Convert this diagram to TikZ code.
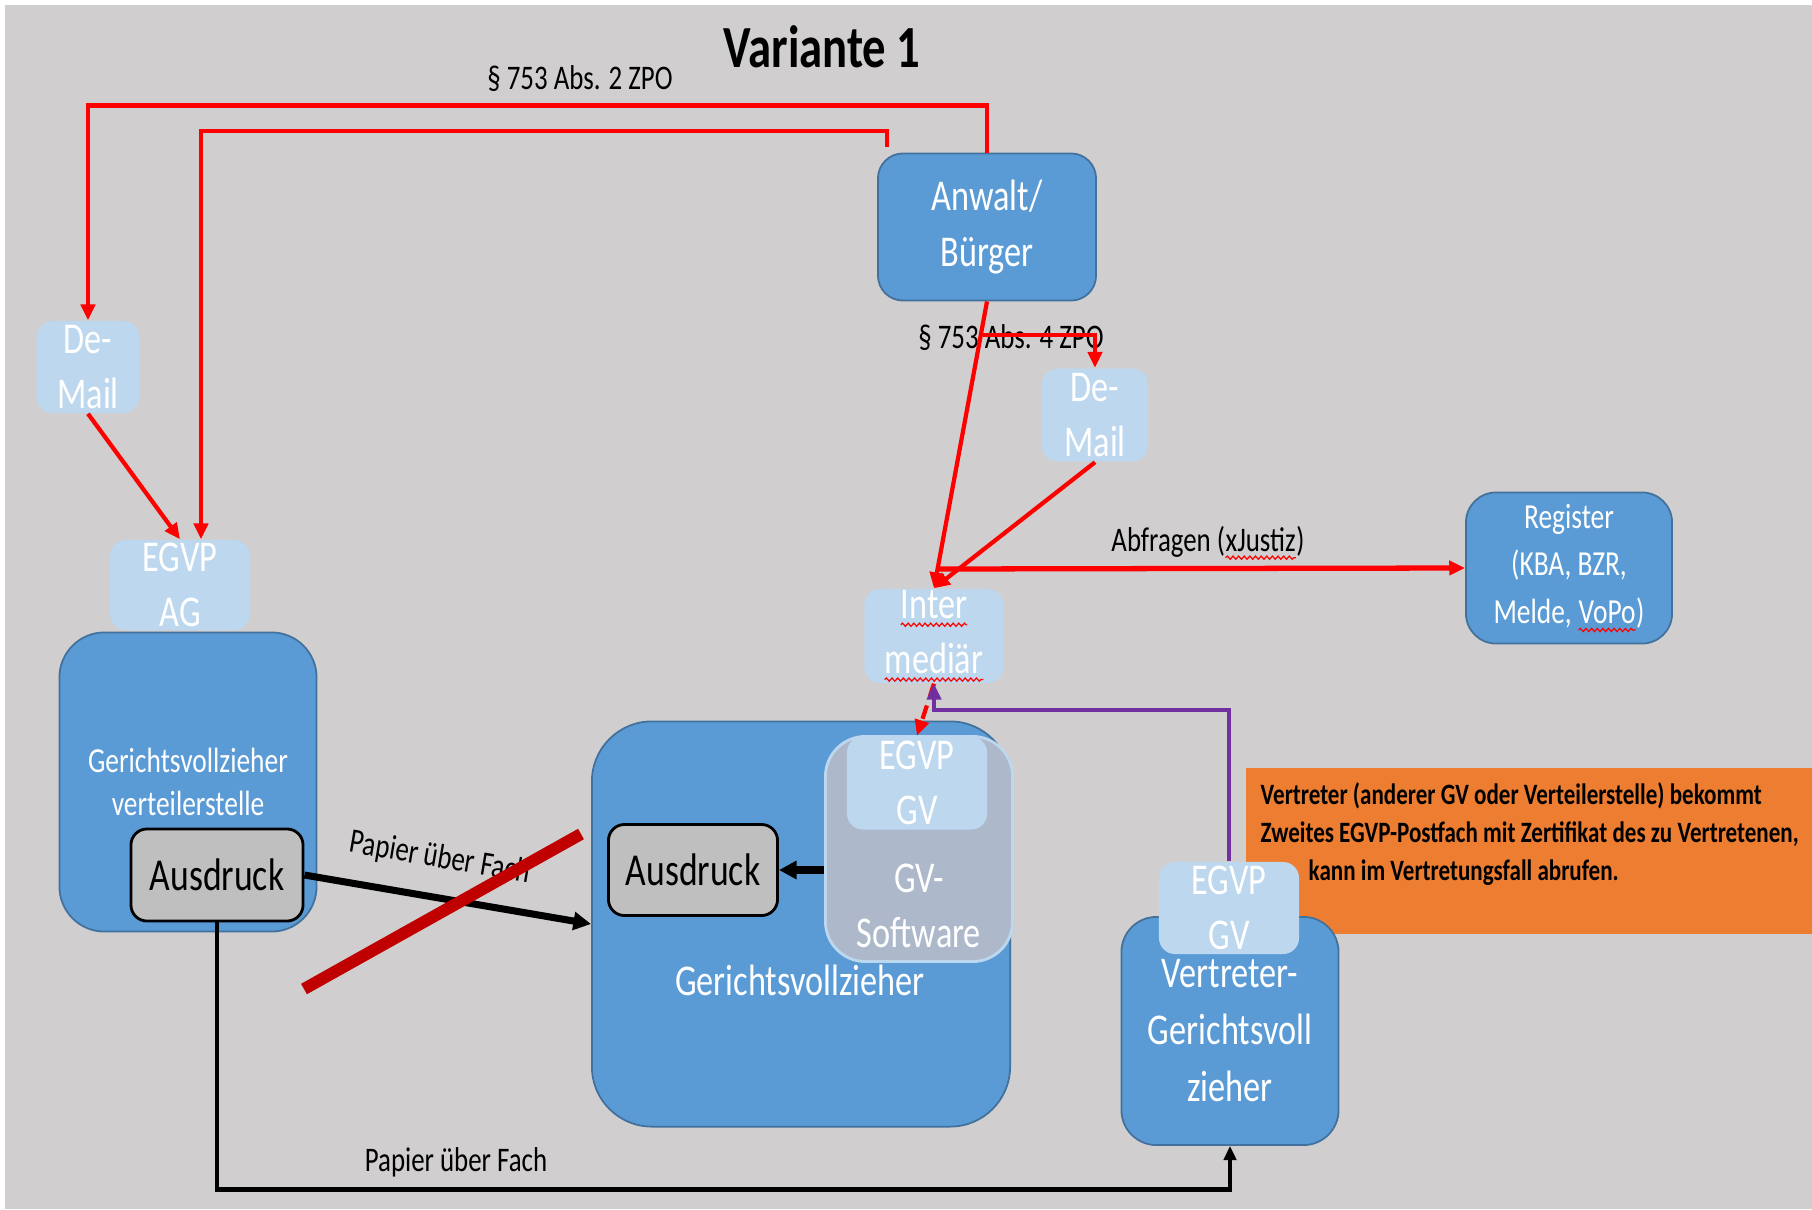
\documentclass[tikz,border=0pt]{standalone}
\usepackage{fontspec}
\setmainfont{Carlito}[FakeStretch=0.78]
\usetikzlibrary{arrows.meta,calc,decorations.pathmorphing}

\definecolor{bggray}{HTML}{D0CECE}
\definecolor{boxblue}{HTML}{5B9BD5}
\definecolor{boxedge}{HTML}{41719C}
\definecolor{mailblue}{HTML}{BDD7EE}
\definecolor{softgray}{HTML}{ADB9CA}
\definecolor{printgray}{HTML}{BFBFBF}
\definecolor{linered}{HTML}{FF0000}
\definecolor{crossred}{HTML}{C00000}
\definecolor{linepurple}{HTML}{7030A0}
\definecolor{noteorange}{HTML}{ED7D31}

\newcommand\spellwave[1]{\tikz[baseline=(sw@w.base), sharp corners]{%
  \node[inner sep=0pt, outer sep=0pt, minimum size=0pt, draw=none, fill=none] (sw@w) {#1};
  \draw[red, line width=0.35pt, sharp corners, decorate, decoration={snake, amplitude=0.45pt, segment length=1.6pt}]
    ([yshift=-1.8pt]sw@w.base west) -- ([yshift=-1.8pt]sw@w.base east);}}

\tikzset{
  mainbox/.style={draw=boxedge, line width=0.5pt, fill=boxblue, text=white, align=center,
    inner sep=0pt, font=\fontsize{12.5}{16.2}\selectfont},
  mailbox/.style={fill=mailblue, text=white, align=center, inner sep=0pt,
    rounded corners=0.16cm, font=\fontsize{12.5}{15.6}\selectfont},
  printbox/.style={draw=black, line width=0.8pt, fill=printgray, rounded corners=0.16cm,
    inner sep=0pt, font=\fontsize{13}{16}\selectfont},
  lbl/.style={inner sep=0pt, font=\fontsize{9.8}{12}\selectfont},
  redline/.style={draw=linered, line width=1.2pt},
  redarrow/.style={-{Triangle[length=4.5pt,width=4pt]}},
  blackarrow/.style={-{Triangle[length=5pt,width=5pt]}}
}

\begin{document}
\begin{tikzpicture}[x=0.01cm,y=-0.01cm]
\useasboundingbox (0,0) rectangle (1812,1209);
\fill[bggray] (5,5) rectangle (1812,1209);

% boxes
\node[mainbox, rounded corners=0.25cm, minimum width=2.18cm, minimum height=1.47cm] (anwalt) at (987,227) {Anwalt/\\Bürger};
\node[mailbox, minimum width=1.03cm, minimum height=0.92cm] (demailL) at (88,367) {De-\\Mail};
\node[mailbox, minimum width=1.40cm, minimum height=0.90cm] (egvpag) at (180,585) {EGVP\\AG};
\node[mainbox, rounded corners=0.45cm, minimum width=2.57cm, minimum height=2.99cm,
  font=\fontsize{10}{12.2}\selectfont] (verteil) at (188,782) {Gerichtsvollzieher\\verteilerstelle};
\node[printbox, minimum width=1.72cm, minimum height=0.92cm] (ausL) at (217,875) {Ausdruck};

\node[mainbox, rounded corners=0.6cm, minimum width=4.18cm, minimum height=4.05cm] (gv) at (801,924) {};
\node[text=white, inner sep=0pt, font=\fontsize{12.5}{15.6}\selectfont] (gvtext) at (800,980) {Gerichtsvollzieher};
\node[printbox, minimum width=1.69cm, minimum height=0.91cm] (ausR) at (693,870) {Ausdruck};
\node[draw=mailblue, line width=0.8pt, fill=softgray, rounded corners=0.4cm,
  minimum width=1.87cm, minimum height=2.25cm] (sw) at (919,849) {};
\node[text=white, align=center, inner sep=0pt, font=\fontsize{12.5}{15.6}\selectfont] (swtext) at (919,906) {GV-\\Software};
\node[mailbox, minimum width=1.40cm, minimum height=0.93cm] (egvpgv) at (917,783) {EGVP\\GV};

\node[mailbox, minimum width=1.39cm, minimum height=0.94cm] (inter) at (934,636) {\spellwave{Inter}\\\spellwave{mediär}};
\node[mailbox, minimum width=1.06cm, minimum height=0.93cm] (demailR) at (1095,415) {De-\\Mail};
\node[mainbox, rounded corners=0.3cm, minimum width=2.06cm, minimum height=1.51cm,
  font=\fontsize{10}{13.6}\selectfont] (register) at (1569,568) {Register\\(KBA, BZR,\\Melde, \spellwave{VoPo})};

\node[fill=noteorange, minimum width=5.66cm, minimum height=1.66cm, inner sep=0pt] (note) at (1529,851) {};
\node[anchor=west, align=left, inner sep=0pt, font=\bfseries\fontsize{8.4}{10.7}\selectfont] (notetext) at (1260,834)
  {Vertreter (anderer GV oder Verteilerstelle) bekommt\\Zweites EGVP-Postfach mit Zertifikat des zu Vertretenen,\\\hspace*{0.48cm}kann im Vertretungsfall abrufen.};

\node[mainbox, rounded corners=0.35cm, minimum width=2.17cm, minimum height=2.28cm] (vertreter) at (1230,1031) {Vertreter-\\Gerichtsvoll\\zieher};
\node[mailbox, minimum width=1.40cm, minimum height=0.92cm] (egvpv) at (1229,908) {EGVP\\GV};

% texts
\node[inner sep=0pt, font=\bfseries\fontsize{17}{20}\selectfont] (title) at (822,47) {Variante 1};
\node[lbl] (abs2) at (580,79) {§ 753 Abs. 2 ZPO};
\node[lbl] (abs4lbl) at (1011,338) {§ 753 Abs. 4 ZPO};
\node[lbl] (query) at (1208,543) {Abfragen (\spellwave{xJustiz})};
\node[lbl] (paper) at (456,1162) {Papier über Fach};

% connectors
\coordinate (a2) at (887,147);
\coordinate (abs4) at (983,335);
\coordinate (ask) at (938,569);
\draw[redline, redarrow] (anwalt.north) -- ++(0,-47) -| (demailL.north);
\draw[redline, redarrow] (a2) -- ++(0,-16) -| ($(egvpag.north)+(21,0)$);
\draw[redline, redarrow] (demailL.south) -- (egvpag.north);
\draw[redline, redarrow] (anwalt.south) -- (inter.north);
\draw[redline, redarrow] (abs4) -| (demailR.north);
\draw[redline, redarrow] (demailR.south) -- (inter.north);
\draw[redline, line width=1.5pt, redarrow] (ask) -- (register.west);
\draw[redline, dash pattern=on 4pt off 2.5pt, redarrow] (inter.south) -- (egvpgv.north);
\draw[linepurple, line width=1.1pt, redarrow] (egvpv.north) -- ++(0,-151) -| (inter.south);
\draw[line width=2pt, blackarrow] (ausL.east) -- node[lbl, sloped, above=6pt, pos=0.45] (paper2) {Papier über Fach} (gv.west);
\draw[line width=2pt, blackarrow] (ausR.east -| sw.west) -- (ausR.east);
\draw[line width=1.3pt, -{Triangle[length=4pt,width=3.5pt]}] (ausL.south) -- ++(0,267) -| (vertreter.south);

% strike
\draw[crossred, line width=3.4pt] (304,989) -- (581,834);
\end{tikzpicture}
\end{document}
